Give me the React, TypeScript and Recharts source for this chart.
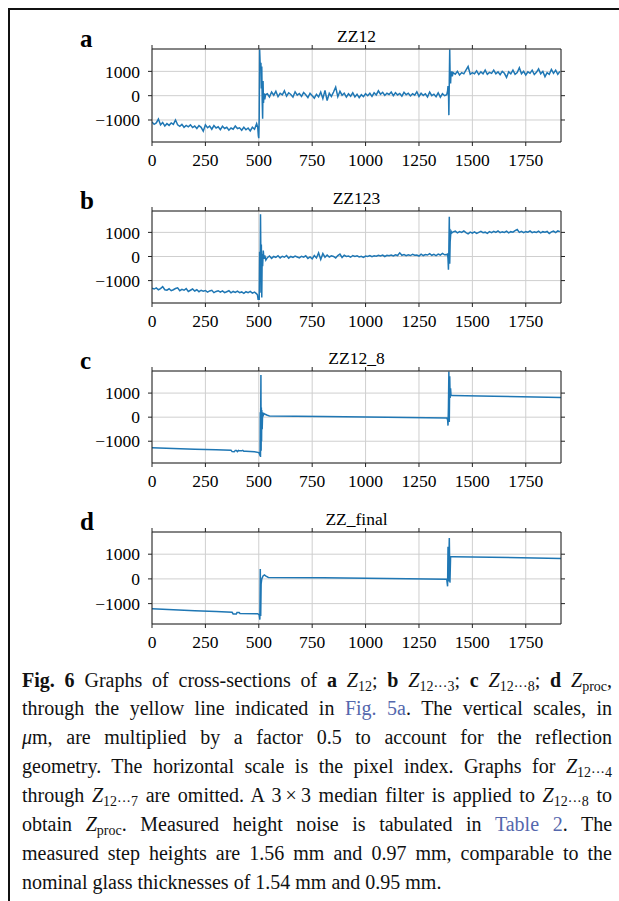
import React from 'react';
import { LineChart, Line, XAxis, YAxis, CartesianGrid } from 'recharts';

const xTicks = [0, 250, 500, 750, 1000, 1250, 1500, 1750];
const yTicks = [-1000, 0, 1000];
const xDomain = [0, 1915];

// ZZ12 - noisy, sampled every 10 px
const zz12Left = [
  -1080, -1180, -1120, -960, -1200, -1100, -1250, -1150, -1220, -1120,
  -1180, -1000, -1200, -1260, -1180, -1300, -1220, -1280, -1200, -1310,
  -1250, -1350, -1230, -1300, -1460, -1200, -1320, -1250, -1380, -1230,
  -1330, -1280, -1400, -1260, -1350, -1300, -1420, -1330, -1380, -1250,
  -1350, -1320, -1420, -1300, -1400, -1330, -1450, -1300, -1380, -1150,
];
const zz12Step1 = [
  [495, -1300], [498, -1650], [500, -1750], [502, -900], [504, 1900], [506, 1400],
  [508, 1100], [510, 1350], [512, 300], [514, 1200], [516, -200], [518, -950],
  [520, 600], [522, -300], [525, 100], [528, -150], [532, 50],
];
const zz12Mid = [
  80, -50, 150, 20, 180, -40, 100, 30, 200, -20,
  120, 50, -60, 160, 20, 90, -30, 130, 40, -80,
  100, 0, -100, 60, -50, 150, -120, 220, -200, 100,
  -30, 150, 350, -40, 180, 20, 100, -60, 80, -20,
  120, -50, 60, -80, 40, -40, 80, 0, 100, -30,
  120, 30, 200, 60, 140, 10, 100, 50, 150, 0,
  120, 30, 90, -20, 140, 40, 100, -10, 80, 20,
  160, -30, 100, 10, 80, -50, 150, 0, 60, -40,
  120, -60, 80, 0, 40,
];
const zz12Step2 = [
  [1384, 200], [1386, 400], [1388, 300], [1390, -800], [1392, 600], [1394, 1900],
  [1396, 700], [1398, 500], [1400, 900], [1403, 1000], [1406, 800],
];
const zz12Right = [
  950, 880, 1000, 850, 950, 900, 1050, 1200, 880, 950,
  900, 1020, 870, 980, 900, 1050, 880, 960, 920, 1050,
  900, 980, 860, 1000, 920, 750, 980, 900, 1050, 880,
  950, 1150, 900, 1000, 850, 980, 920, 1050, 870, 960,
  1100, 900, 1000, 780, 950, 880, 1080, 920, 1050, 880,
  1000,
];

// ZZ123
const zz123Left = [
  -1320, -1350, -1300, -1380, -1330, -1250, -1380, -1400, -1340, -1420,
  -1380, -1330, -1300, -1420, -1360, -1400, -1330, -1450, -1400, -1350,
  -1430, -1380, -1460, -1400, -1440, -1410, -1480, -1430, -1400, -1500,
  -1450, -1420, -1480, -1430, -1500, -1460, -1420, -1510, -1450, -1490,
  -1440, -1500, -1470, -1530, -1460, -1500, -1450, -1520, -1480, -1550,
];
const zz123Step1 = [
  [494, -1600], [497, -1800], [500, -1700], [502, -1800], [504, 200], [506, -1500],
  [508, 1750], [510, -300], [512, 500], [514, -1700], [516, 100], [518, -400],
  [521, 250], [524, -100], [528, 50], [533, -150],
];
const zz123Mid = [
  -50, 20, -80, 0, -40, 30, -60, 10, -30, 40,
  -70, 0, -40, 20, -20, -60, 10, -30, 30, -80,
  -20, -100, 40, -60, 150, -120, 120, -30, 60, -20,
  30, 0, -60, 40, 100, -40, 50, 0, 20, -30,
  40, 0, 30, -20, 10, -40, 20, 0, 40, -10,
  30, 10, 50, 20, 60, 0, 50, 30, 60, 20,
  70, 40, 150, 50, 80, 30, 70, 40, 90, 50,
  60, 20, 100, 40, 80, 60, 120, 50, 90, 40,
  100, 60, 130, 70, 80,
];
const zz123Step2 = [
  [1384, 100], [1386, -100], [1388, -550], [1390, 300], [1392, 1650], [1394, -300],
  [1396, 600], [1398, 850], [1400, 1050], [1404, 980],
];
const zz123Right = [
  1020, 1050, 980, 1030, 1000, 1060, 990, 940, 1010, 970,
  1020, 960, 1000, 1040, 990, 1010, 960, 1030, 990, 1040,
  1000, 1060, 990, 1020, 1000, 1050, 980, 1030, 1010, 1070,
  1120, 1000, 1040, 990, 1030, 1010, 1060, 990, 1020, 1000,
  1050, 980, 1030, 1010, 1040, 950, 1020, 1050, 990, 1060,
  1030,
];

// ZZ12_8 - smooth with residual spikes at the steps
const zz12_8 = [
  [0, -1270], [100, -1300], [200, -1330], [300, -1350], [370, -1370], [375, -1430],
  [385, -1440], [390, -1380], [395, -1380], [400, -1430], [405, -1380], [410, -1400],
  [420, -1400], [425, -1380], [430, -1420], [440, -1420], [480, -1440], [500, -1470],
  [504, -1550], [506, -1600], [507, 200], [508, -1650], [509, 300], [510, 1750],
  [511, -1400], [512, 400], [513, -1000], [514, 300], [516, -500], [518, 200],
  [520, 50], [525, 150], [530, 120], [540, 80], [550, 50], [800, 30],
  [1100, 0], [1380, -30], [1384, -100], [1386, -350], [1388, 400], [1390, 1900],
  [1392, -200], [1394, 1700], [1396, 800], [1398, 1200], [1400, 900], [1405, 900],
  [1600, 870], [1915, 820],
];

// ZZ_final - after median filter
const zzFinal = [
  [0, -1210], [100, -1250], [200, -1290], [300, -1320], [375, -1350], [380, -1420],
  [395, -1420], [398, -1360], [408, -1360], [412, -1400], [495, -1410], [502, -1460],
  [505, -1650], [507, 400], [509, -1500], [511, -200], [514, 0], [520, 120],
  [526, 160], [532, 120], [545, 60], [800, 45], [1100, 20], [1380, -10],
  [1384, -300], [1386, 1300], [1388, -100], [1392, 1650], [1395, -150], [1398, 900],
  [1410, 900], [1915, 830],
];

type Pt = { x: number; y: number };
const bulk = (start: number, ys: number[]): Pt[] => ys.map((y, i) => ({ x: start + i * 10, y }));
const pairs = (ps: number[][]): Pt[] => ps.map(([x, y]) => ({ x, y }));
const merge = (...parts: Pt[][]) => parts.flat().sort((p, q) => p.x - q.x);

const dataA = merge(bulk(0, zz12Left), pairs(zz12Step1), bulk(540, zz12Mid), pairs(zz12Step2), bulk(1410, zz12Right));
const dataB = merge(bulk(0, zz123Left), pairs(zz123Step1), bulk(540, zz123Mid), pairs(zz123Step2), bulk(1410, zz123Right));
const dataC = pairs(zz12_8);
const dataD = pairs(zzFinal);

const SERIF = "'Liberation Serif', 'Times New Roman', serif";
const PLOT_L = 152;
const PLOT_R = 561;
const FRAME = '#222';
const tickStyle = { fill: '#000', fontSize: 17.5, fontFamily: SERIF };
const fmt = (v: number) => (v < 0 ? '\u2212' + Math.abs(v) : String(v));
const blank = () => '';

interface PanelProps {
  letter: string;
  title: string;
  plotTop: number;
  plotH: number;
  yDomain: number[];
  data: Pt[];
  width: number;
}

const Panel: React.FC<PanelProps> = ({ letter, title, plotTop, plotH, yDomain, data, width }) => (
  <>
    <div style={{ position: 'absolute', left: 80, top: plotTop - 22, fontSize: 25, lineHeight: '24px', fontWeight: 'bold', fontFamily: SERIF }}>
      {letter}
    </div>
    <div style={{ position: 'absolute', left: PLOT_L, width: PLOT_R - PLOT_L, top: plotTop - 23.4, textAlign: 'center', fontSize: 17.5, lineHeight: '20px', fontFamily: SERIF }}>
      {title}
    </div>
    <div style={{ position: 'absolute', left: 0, top: plotTop - 10 }}>
      <LineChart width={619} height={10 + plotH + 35} data={data} margin={{ top: 5, right: 53, bottom: 0, left: 92 }}>
        <CartesianGrid stroke="#cfcfcf" strokeWidth={1} />
        <XAxis dataKey="x" type="number" domain={xDomain} ticks={xTicks} allowDataOverflow height={35} interval={0}
          tickSize={4} tickMargin={8} tick={tickStyle} stroke={FRAME} tickLine={{ stroke: FRAME }} />
        <XAxis xAxisId="t" orientation="top" dataKey="x" type="number" domain={xDomain} ticks={xTicks} allowDataOverflow
          height={5} interval={0} tickSize={4} tickFormatter={blank} stroke={FRAME} />
        <YAxis type="number" domain={yDomain} ticks={yTicks} allowDataOverflow width={60} interval={0}
          tickSize={4} tickMargin={8} tick={tickStyle} tickFormatter={fmt} stroke={FRAME} />
        <YAxis yAxisId="r" orientation="right" type="number" domain={yDomain} ticks={yTicks} allowDataOverflow
          width={5} interval={0} tickSize={4} tickFormatter={blank} stroke={FRAME} />
        <Line type="linear" dataKey="y" stroke="#1f77b4" strokeWidth={width} dot={false} isAnimationActive={false} />
      </LineChart>
    </div>
  </>
);

const sub = (s: string) => (
  <span style={{ fontSize: '0.7em', position: 'relative', top: '0.3em' }}>{s}</span>
);
const Z = (s: string) => (
  <>
    <i>Z</i>
    {sub(s)}
  </>
);
const link = { color: '#5467ad' };

const captionLines: React.ReactNode[] = [
  <>
    <b>Fig. 6</b> Graphs of cross-sections of <b>a</b> {Z('12')}; <b>b</b> {Z('12\u00B7\u00B7\u00B73')}; <b>c</b> {Z('12\u00B7\u00B7\u00B78')}; <b>d</b> {Z('proc')},
  </>,
  <>
    through the yellow line indicated in <span style={link}>Fig. 5a</span>. The vertical scales, in
  </>,
  <>
    <i>{'\u03BC'}</i>m, are multiplied by a factor 0.5 to account for the reflection
  </>,
  <>geometry. The horizontal scale is the pixel index. Graphs for {Z('12\u00B7\u00B7\u00B74')}</>,
  <>
    through {Z('12\u00B7\u00B7\u00B77')} are omitted. A 3{'\u2009\u00D7\u2009'}3 median filter is applied to {Z('12\u00B7\u00B7\u00B78')} to
  </>,
  <>
    obtain {Z('proc')}. Measured height noise is tabulated in <span style={link}>Table 2</span>. The
  </>,
  <>measured step heights are 1.56 mm and 0.97 mm, comparable to the</>,
  <>nominal glass thicknesses of 1.54 mm and 0.95 mm.</>,
];

const App: React.FC = () => {
  const lineH = 28.9;
  return (
    <div style={{ position: 'absolute', left: 0, top: 0, width: 619, height: 901, overflow: 'hidden', background: '#fff', fontFamily: SERIF }}>
      <div style={{ position: 'absolute', left: 8, top: 8, width: 611, height: 893, borderLeft: '2px solid #111', borderTop: '2px solid #111', boxSizing: 'border-box' }} />
      <Panel letter="a" title="ZZ12" plotTop={49} plotH={93} yDomain={[-1905, 1920]} data={dataA} width={1.5} />
      <Panel letter="b" title="ZZ123" plotTop={211} plotH={92} yDomain={[-1929, 1887]} data={dataB} width={1.5} />
      <Panel letter="c" title="ZZ12_8" plotTop={371} plotH={92} yDomain={[-1904, 1917]} data={dataC} width={1.5} />
      <Panel letter="d" title="ZZ_final" plotTop={532} plotH={92} yDomain={[-1825, 1898]} data={dataD} width={1.5} />
      {captionLines.map((ln, i) => (
        <div key={i} style={{
          position: 'absolute', left: 22, width: 590, top: 665.5 + i * lineH, height: lineH,
          fontSize: 20, lineHeight: `${lineH}px`, color: '#111', whiteSpace: 'nowrap',
          textAlign: i < captionLines.length - 1 ? 'justify' : 'left',
          textAlignLast: i < captionLines.length - 1 ? 'justify' : 'left',
        }}>
          {ln}
        </div>
      ))}
    </div>
  );
};

export default App;
